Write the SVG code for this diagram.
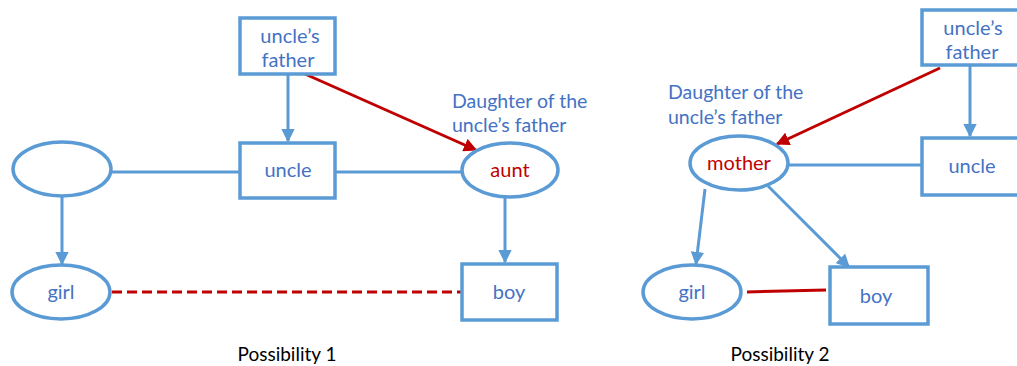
<svg xmlns="http://www.w3.org/2000/svg" width="1017" height="366" viewBox="0 0 1017 366">
<defs>
<style>
.n{fill:#fff;stroke:#5B9BD5;stroke-width:3.5}
.t{font-family:Lato,"Open Sans","Liberation Sans",sans-serif;font-size:20px;fill:#4472C4;text-anchor:middle}
.r{fill:#C00000}
.l{font-family:Lato,"Open Sans","Liberation Sans",sans-serif;font-size:19.5px;fill:#4472C4}
.cap{font-family:Lato,"Open Sans","Liberation Sans",sans-serif;font-size:19px;fill:#000;text-anchor:middle}
.b{stroke:#5B9BD5;stroke-width:3;fill:none}
.rd{stroke:#C00000;stroke-width:3;fill:none}
</style>
<marker id="ab" viewBox="0 0 10 10" refX="9" refY="5" markerWidth="4.5" markerHeight="4.5" orient="auto" markerUnits="strokeWidth"><path d="M0,0 L10,5 L0,10 z" fill="#5B9BD5"/></marker>
<marker id="ar" viewBox="0 0 10 10" refX="9" refY="5" markerWidth="4.5" markerHeight="4.5" orient="auto" markerUnits="strokeWidth"><path d="M0,0 L10,5 L0,10 z" fill="#C00000"/></marker>
</defs>
<rect width="1017" height="366" fill="#fff"/>
<g id="connectors">
<line class="b" x1="288" y1="75" x2="288" y2="141" marker-end="url(#ab)"/>
<line class="b" x1="112" y1="172" x2="240" y2="172"/>
<line class="b" x1="335" y1="172" x2="462" y2="172"/>
<line class="rd" x1="305" y1="74" x2="476" y2="150" marker-end="url(#ar)"/>
<line class="b" x1="505" y1="197" x2="505" y2="262" marker-end="url(#ab)"/>
<line class="b" x1="62" y1="196" x2="62" y2="264" marker-end="url(#ab)"/>
<line class="rd" x1="112" y1="292" x2="462" y2="292" stroke-dasharray="10,5"/>
<line class="b" x1="970" y1="66" x2="970" y2="136" marker-end="url(#ab)"/>
<line class="rd" x1="940" y1="68" x2="777" y2="144" marker-end="url(#ar)"/>
<line class="b" x1="789" y1="165" x2="922" y2="165"/>
<line class="b" x1="705" y1="189" x2="696" y2="264" marker-end="url(#ab)"/>
<line class="b" x1="768" y1="186" x2="849" y2="267" marker-end="url(#ab)"/>
<line class="rd" x1="747" y1="292" x2="826" y2="290"/>
</g>
<g id="p1-unclesfather"><rect class="n" x="240" y="18" width="95" height="56"/><text class="t" x="290" y="43">uncle’s</text><text class="t" x="288" y="67">father</text></g>
<g id="p1-uncle"><rect class="n" x="240" y="143" width="95" height="55"/><text class="t" x="288" y="177">uncle</text></g>
<g id="p1-spouse"><ellipse class="n" cx="62" cy="169" rx="49" ry="27"/></g>
<g id="p1-aunt"><ellipse class="n" cx="510" cy="170" rx="48" ry="27"/><text class="t r" x="510" y="177">aunt</text></g>
<g id="p1-label"><text class="l" x="452" y="108">Daughter of the</text><text class="l" x="452" y="132">uncle’s father</text></g>
<g id="p1-girl"><ellipse class="n" cx="61" cy="292" rx="49" ry="27"/><text class="t" x="61" y="299">girl</text></g>
<g id="p1-boy"><rect class="n" x="462" y="264" width="95" height="56"/><text class="t" x="509" y="299">boy</text></g>
<g id="p2-unclesfather"><rect class="n" x="922" y="10" width="100" height="55"/><text class="t" x="973" y="35">uncle’s</text><text class="t" x="972" y="59">father</text></g>
<g id="p2-uncle"><rect class="n" x="922" y="138" width="100" height="57"/><text class="t" x="972" y="173">uncle</text></g>
<g id="p2-mother"><ellipse class="n" cx="739" cy="163" rx="49" ry="27"/><text class="t r" x="739" y="170">mother</text></g>
<g id="p2-label"><text class="l" x="668" y="99">Daughter of the</text><text class="l" x="668" y="124">uncle’s father</text></g>
<g id="p2-girl"><ellipse class="n" cx="692" cy="292" rx="49" ry="27"/><text class="t" x="692" y="299">girl</text></g>
<g id="p2-boy"><rect class="n" x="830" y="267" width="98" height="57"/><text class="t" x="876" y="303">boy</text></g>
<text class="cap" x="287" y="361">Possibility 1</text>
<text class="cap" x="780" y="361">Possibility 2</text>
</svg>
